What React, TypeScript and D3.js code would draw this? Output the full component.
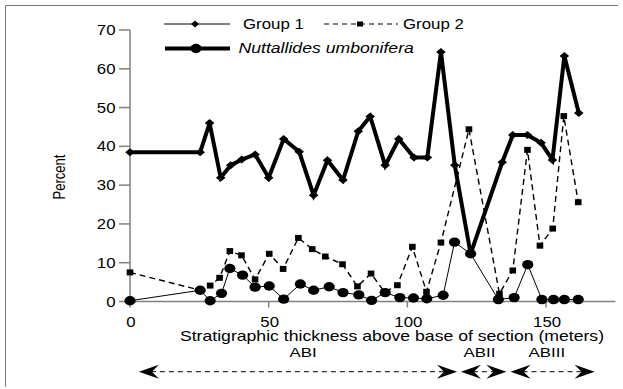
import React from "react";
import * as d3 from "d3";

// ---- data ----
const thickX = [0, 25.3, 28.7, 32.7, 36.3, 40.3, 45.1, 50, 55.4, 61, 66.2, 71.2, 76.8, 82.3, 86.6, 92, 96.9, 102.4, 107.2, 112.1, 117.1, 122.8, 134.2, 138, 143.3, 148.2, 152.3, 156.6, 161.8];
const thickY = [38.5, 38.5, 46, 31.9, 35.1, 36.6, 37.9, 31.9, 41.9, 38.6, 27.4, 36.4, 31.3, 43.9, 47.7, 35.1, 41.9, 37.1, 37.1, 64.3, 35.1, 12.3, 35.9, 42.9, 42.9, 40.9, 36.5, 63.3, 48.6];

const thinX = [0, 25.3, 28.9, 33, 36, 40.6, 45.1, 50.2, 55.4, 61.4, 66.2, 71.8, 76.8, 82.5, 87.1, 92, 97.3, 102.2, 107, 112.9, 117, 122.8, 132.8, 138.5, 143.4, 148.5, 152.7, 156.6, 161.6];
const thinY = [0.2, 2.9, 0.2, 2.1, 8.5, 6.8, 3.7, 4, 0.6, 4.5, 2.9, 3.8, 2.3, 1.7, 0.3, 2.3, 1.0, 0.9, 0.7, 1.6, 15.3, 12.3, 0.5, 1.0, 9.5, 0.5, 0.5, 0.5, 0.5];

const dashX = [0, 25.3, 28.9, 32.3, 36, 40.2, 45.1, 50.2, 55.2, 60.7, 65.7, 70.4, 76.6, 82, 86.9, 91.8, 96.4, 101.8, 106.9, 112.1, 122.2, 133.2, 138, 143.3, 147.8, 152.4, 156.4, 161.6];
const dashY = [7.5, 2.9, 4.1, 6.1, 13, 11.9, 5.7, 12.3, 8.4, 16.4, 13.5, 11.6, 9.6, 3.9, 7.2, 2.4, 4.2, 14.1, 2.5, 15.2, 44.4, 2.0, 8.0, 39.1, 14.4, 18.8, 47.8, 25.6];

const xTicks = [0, 50, 100, 150];
const yTicks = [0, 10, 20, 30, 40, 50, 60, 70];

const regionNames = ["ABI", "ABII", "ABIII"];
const regionStart = [3.2, 119.3, 137.2];
const regionEnd = [117.9, 135.7, 167.5];
const regionLabelX = [62.4, 126, 150.3];

const legendNames = ["Group 1", "Group 2", "Nuttallides umbonifera"];

const xLabel = "Stratigraphic thickness above base of section (meters)";
const yLabel = "Percent";

// ---- layout ----
const W = 623;
const H = 389;
const FONT = "'Liberation Sans', Arial, Helvetica, sans-serif";
const AXIS = "#808080";

const x = d3.scaleLinear().domain([0, 175]).range([130, 615.4]);
const y = d3.scaleLinear().domain([0, 70]).range([301.5, 30]);

const pts = (xs: number[], ys: number[]) => xs.map((v, i) => [v, ys[i]] as [number, number]);
const line = d3
  .line<[number, number]>()
  .x((d) => x(d[0]))
  .y((d) => y(d[1]));

function T(props: {
  x: number;
  y: number;
  anchor?: string;
  size?: number;
  sx?: number;
  italic?: boolean;
  rotate?: number;
  children: React.ReactNode;
}) {
  const { anchor = "start", size = 14, sx = 1.2, italic = false, rotate = 0 } = props;
  return (
    <g transform={`translate(${props.x},${props.y}) scale(${sx},1)${rotate ? ` rotate(${rotate})` : ""}`}>
      <text
        textAnchor={anchor}
        fontSize={size}
        fontFamily={FONT}
        fontStyle={italic ? "italic" : "normal"}
        fill="#000"
      >
        {props.children}
      </text>
    </g>
  );
}

const diamond = (cx: number, cy: number, w: number, h: number) =>
  `M${cx},${cy - h}L${cx + w},${cy}L${cx},${cy + h}L${cx - w},${cy}Z`;

const arrowHead = (tx: number, ty: number, dir: number) => {
  const L = 20, Hh = 7, N = 13;
  return `M${tx},${ty}L${tx - dir * L},${ty - Hh}L${tx - dir * N},${ty}L${tx - dir * L},${ty + Hh}Z`;
};

export default function App() {
  const thick = pts(thickX, thickY);
  const thin = pts(thinX, thinY);
  const dash = pts(dashX, dashY);
  const arrowY = 371.7;

  return (
    <svg
      width={W}
      height={H}
      viewBox={`0 0 ${W} ${H}`}
      style={{ position: "absolute", left: 0, top: 0, background: "#fff" }}
    >
      <rect x={0} y={0} width={W} height={H} fill="#fff" />
      {/* frame */}
      <line x1={5.5} y1={5.5} x2={618} y2={5.5} stroke="#777" strokeWidth={1} />
      <line x1={5.5} y1={5.5} x2={5.5} y2={387} stroke="#777" strokeWidth={1} />

      {/* axes */}
      <line x1={x(0)} y1={y(70)} x2={x(0)} y2={y(0)} stroke={AXIS} strokeWidth={1.5} />
      <line x1={x(0)} y1={y(0)} x2={x(175)} y2={y(0)} stroke={AXIS} strokeWidth={1.5} />
      {yTicks.map((t) => (
        <g key={"y" + t}>
          <line x1={x(0) - 11} x2={x(0)} y1={y(t)} y2={y(t)} stroke={AXIS} strokeWidth={1.5} />
          <T x={115.5} y={y(t) + 5}>
            {""}
          </T>
          <T x={115.5} y={y(t) + 5} anchor="end">
            {t}
          </T>
        </g>
      ))}
      {xTicks.map((t) => (
        <g key={"x" + t}>
          <line x1={x(t)} x2={x(t)} y1={y(0)} y2={y(0) + 6} stroke={AXIS} strokeWidth={1.5} />
          <T x={x(t) + 1} y={326.5} anchor="middle">
            {t}
          </T>
        </g>
      ))}
      <T x={392} y={340.5} anchor="middle" size={14} sx={1.26}>
        {xLabel}
      </T>
      <T x={65} y={177} anchor="middle" size={13} sx={1.25} rotate={-90}>
        {yLabel}
      </T>

      {/* series: dashed with squares */}
      <path d={line(dash) || ""} fill="none" stroke="#000" strokeWidth={1.4} strokeDasharray="6,4" />
      {dash.map((d, i) => (
        <rect key={"s" + i} x={x(d[0]) - 3.3} y={y(d[1]) - 3} width={6.6} height={6} fill="#000" />
      ))}

      {/* thin with circles */}
      <path d={line(thin) || ""} fill="none" stroke="#000" strokeWidth={1} />
      {thin.map((d, i) => (
        <ellipse key={"c" + i} cx={x(d[0])} cy={y(d[1])} rx={5.6} ry={4.7} fill="#000" />
      ))}

      {/* thick with diamonds */}
      <path d={line(thick) || ""} fill="none" stroke="#000" strokeWidth={4} strokeLinejoin="miter" strokeMiterlimit={3} />
      {thick.map((d, i) => (
        <path key={"d" + i} d={diamond(x(d[0]), y(d[1]), 4.8, 4)} fill="#000" />
      ))}

      {/* legend */}
      <line x1={164} x2={230} y1={24} y2={24} stroke="#000" strokeWidth={1} />
      <path d={diamond(195, 24, 4, 3.5)} fill="#000" />
      <T x={243} y={28.8} size={13.8} sx={1.22}>
        {legendNames[0]}
      </T>
      <line x1={324} x2={398} y1={24} y2={24} stroke="#000" strokeWidth={1} strokeDasharray="5,4" />
      <rect x={357} y={21.5} width={6} height={5} fill="#000" />
      <T x={403} y={28.8} size={13.8} sx={1.22}>
        {legendNames[1]}
      </T>
      <line x1={165} x2={230} y1={48.5} y2={48.5} stroke="#000" strokeWidth={4} />
      <ellipse cx={196} cy={48.5} rx={5.6} ry={4.7} fill="#000" />
      <T x={238.5} y={53.3} size={14} sx={1.26} italic>
        {legendNames[2]}
      </T>

      {/* regions */}
      {regionNames.map((n, i) => {
        const a = x(regionStart[i]);
        const b = x(regionEnd[i]);
        return (
          <g key={n}>
            <line x1={a + 12} x2={b - 12} y1={arrowY} y2={arrowY} stroke="#000" strokeWidth={1} strokeDasharray="5,4" />
            <path d={arrowHead(a, arrowY, -1)} fill="#000" />
            <path d={arrowHead(b, arrowY, 1)} fill="#000" />
            <T x={x(regionLabelX[i])} y={356.5} anchor="middle" size={13.5} sx={1.25}>
              {n}
            </T>
          </g>
        );
      })}
    </svg>
  );
}
